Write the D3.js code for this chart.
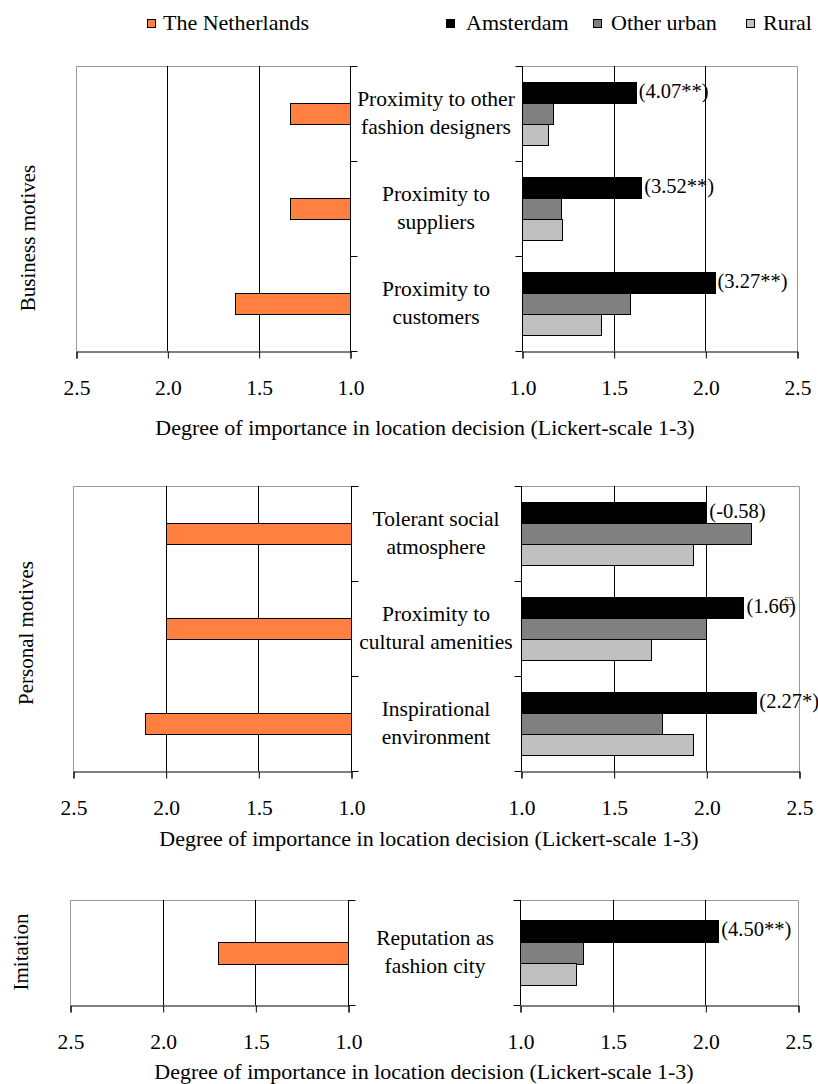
<!DOCTYPE html>
<html>
<head>
<meta charset="utf-8">
<script src="https://cdn.jsdelivr.net/npm/d3@7"></script>
<style>
  body { margin: 0; background: #fff; }
  svg { display: block; }
  svg text { font-family: "Liberation Serif", "DejaVu Serif", serif !important; fill: #000; }
</style>
</head>
<body>
<script>
// ---------------- DATA ----------------
const seriesNames = ["The Netherlands", "Amsterdam", "Other urban", "Rural"];
const valueTicks = [1.0, 1.5, 2.0, 2.5];
const axisTitle = "Degree of importance in location decision (Lickert-scale 1-3)";

const businessLabel = "Business motives";
const businessCategories = [["Proximity to other", "fashion designers"], ["Proximity to", "suppliers"], ["Proximity to", "customers"]];
const businessNetherlands = [1.33, 1.33, 1.63];
const businessAmsterdam = [1.62, 1.65, 2.05];
const businessOtherUrban = [1.17, 1.21, 1.59];
const businessRural = [1.14, 1.22, 1.43];
const businessTStats = ["(4.07**)", "(3.52**)", "(3.27**)"];

const personalLabel = "Personal motives";
const personalCategories = [["Tolerant social", "atmosphere"], ["Proximity to", "cultural amenities"], ["Inspirational", "environment"]];
const personalNetherlands = [2.00, 2.00, 2.11];
const personalAmsterdam = [2.00, 2.20, 2.27];
const personalOtherUrban = [2.24, 2.00, 1.76];
const personalRural = [1.93, 1.70, 1.93];
const personalTStats = ["(-0.58)", "(1.66□)", "(2.27*)"];

const imitationLabel = "Imitation";
const imitationCategories = [["Reputation as", "fashion city"]];
const imitationNetherlands = [1.70];
const imitationAmsterdam = [2.07];
const imitationOtherUrban = [1.34];
const imitationRural = [1.30];
const imitationTStats = ["(4.50**)"];

// ---------------- STYLE / LAYOUT ----------------
const FONT = "'Liberation Serif', 'DejaVu Serif', serif";
const colors = { nl: "#FF8040", ams: "#000000", oth: "#808080", rur: "#C0C0C0" };
const W = 818, H = 1084;
const svg = d3.select("body").append("svg").attr("width", W).attr("height", H)
  .attr("font-family", FONT);

// Legend
const legendItems = [
  { name: seriesNames[0], color: colors.nl, sx: 147, tx: 163 },
  { name: seriesNames[1], color: colors.ams, sx: 446, tx: 466 },
  { name: seriesNames[2], color: colors.oth, sx: 593, tx: 611 },
  { name: seriesNames[3], color: colors.rur, sx: 746, tx: 763 }
];
const lg = svg.append("g");
lg.selectAll("rect").data(legendItems).join("rect")
  .attr("x", d => d.sx + 0.5).attr("y", 19.5).attr("width", 8).attr("height", 8)
  .attr("fill", d => d.color).attr("stroke", "#000").attr("stroke-width", 1);
lg.selectAll("text").data(legendItems).join("text")
  .attr("x", d => d.tx).attr("y", 30).attr("font-size", 22).text(d => d.name);

function drawPanel(cfg, label, cats, nl, ams, oth, rur, tstats) {
  const g = svg.append("g");
  const xL = d3.scaleLinear().domain([2.5, 1.0]).range([cfg.lx0, cfg.lx1]);
  const xR = d3.scaleLinear().domain([1.0, 2.5]).range([cfg.rx0, cfg.rx1]);
  const y = d3.scaleBand().domain(d3.range(cats.length)).range([cfg.top, cfg.bottom])
    .paddingInner(cfg.pad).paddingOuter(cfg.pad / 2);
  const ySub = d3.scaleBand().domain([0, 1, 2]).range([0, y.bandwidth()]);
  const px = v => Math.round(v) + 0.5;

  // plot borders (light grey)
  g.append("path").attr("fill", "none").attr("stroke", "#999").attr("stroke-width", 1)
    .attr("d", `M${px(xL(1.0))},${px(cfg.top)}H${px(xL(2.5))}V${px(cfg.bottom)}`);
  g.append("path").attr("fill", "none").attr("stroke", "#999").attr("stroke-width", 1)
    .attr("d", `M${px(xR(1.0))},${px(cfg.top)}H${px(xR(2.5))}V${px(cfg.bottom)}`);

  // gridlines
  const inner = [1.5, 2.0];
  g.selectAll(".gl").data(inner).join("line")
    .attr("x1", d => px(xL(d))).attr("x2", d => px(xL(d)))
    .attr("y1", cfg.top).attr("y2", cfg.bottom).attr("stroke", "#000");
  g.selectAll(".gr").data(inner).join("line")
    .attr("x1", d => px(xR(d))).attr("x2", d => px(xR(d)))
    .attr("y1", cfg.top).attr("y2", cfg.bottom).attr("stroke", "#000");

  // Netherlands bars (left, reversed)
  g.selectAll(".nl").data(nl).join("rect")
    .attr("x", d => px(xL(d))).attr("width", d => Math.round(xL(1.0)) - Math.round(xL(d)))
    .attr("y", (d, i) => px(y(i) + ySub(1))).attr("height", Math.round(ySub.bandwidth()))
    .attr("fill", colors.nl).attr("stroke", "#000");

  // right bars
  const series = [{ vals: ams, c: colors.ams, k: 0 }, { vals: oth, c: colors.oth, k: 1 }, { vals: rur, c: colors.rur, k: 2 }];
  series.forEach(s => {
    g.selectAll(".r" + s.k).data(s.vals).join("rect")
      .attr("x", px(xR(1.0))).attr("width", d => Math.round(xR(d)) - Math.round(xR(1.0)))
      .attr("y", (d, i) => px(y(i) + ySub(s.k))).attr("height", Math.round(ySub.bandwidth()))
      .attr("fill", s.c).attr("stroke", "#000");
  });

  // t-stat annotations
  const ann = g.selectAll(".ann").data(tstats).join("text")
    .attr("x", (d, i) => xR(ams[i]) + 3)
    .attr("y", (d, i) => y(i) + ySub(0) + ySub.bandwidth() / 2 + 5)
    .attr("font-size", 20.5);
  ann.each(function (d) {
    const t = d3.select(this);
    const parts = d.split("□");
    if (parts.length === 1) { t.text(d); return; }
    t.append("tspan").text(parts[0]);
    t.append("tspan").attr("font-size", 13).attr("dx", -4).attr("dy", -8).text("□");
    t.append("tspan").attr("dx", -4).attr("dy", 8).text(parts[1]);
  });

  // category axes with outward ticks
  const bounds = d3.range(cats.length + 1).map(i => cfg.top + i * y.step());
  g.append("line").attr("x1", px(xL(1.0))).attr("x2", px(xL(1.0)))
    .attr("y1", cfg.top).attr("y2", cfg.bottom).attr("stroke", "#000");
  g.append("line").attr("x1", px(xR(1.0))).attr("x2", px(xR(1.0)))
    .attr("y1", cfg.top).attr("y2", cfg.bottom).attr("stroke", "#000");
  g.selectAll(".ctl").data(bounds).join("line")
    .attr("x1", px(xL(1.0))).attr("x2", px(xL(1.0)) + 7)
    .attr("y1", d => px(d)).attr("y2", d => px(d)).attr("stroke", "#000");
  g.selectAll(".ctr").data(bounds).join("line")
    .attr("x1", px(xR(1.0)) - 7).attr("x2", px(xR(1.0)))
    .attr("y1", d => px(d)).attr("y2", d => px(d)).attr("stroke", "#000");

  // value axes
  [xL, xR].forEach(sc => {
    const ax = g.append("g").attr("transform", `translate(0.5,${px(cfg.bottom)})`)
      .call(d3.axisBottom(sc).tickValues(valueTicks).tickFormat(d3.format(".1f"))
        .tickSizeOuter(0).tickSize(7).tickPadding(21));
    ax.attr("font-family", FONT).attr("font-size", 21.5);
    ax.select(".domain").attr("stroke", "#000");
    ax.selectAll(".tick line").attr("stroke", "#000");
    ax.selectAll(".tick text").attr("fill", "#000");
  });

  // axis title
  g.append("text").attr("x", cfg.titleX).attr("y", cfg.titleY).attr("text-anchor", "middle")
    .attr("font-size", 22).text(axisTitle);

  // category labels (two lines)
  const cl = g.selectAll(".cl").data(cats).join("text")
    .attr("text-anchor", "middle").attr("font-size", 21.5);
  cl.each(function (lines, i) {
    const c = y(i) + y.bandwidth() / 2;
    const t = d3.select(this);
    t.append("tspan").attr("x", cfg.labelX).attr("y", c - 8).text(lines[0]);
    t.append("tspan").attr("x", cfg.labelX).attr("y", c + 20).text(lines[1]);
  });

  // group label (rotated)
  g.append("text").attr("transform", `translate(${cfg.groupX},${cfg.groupY}) rotate(-90)`)
    .attr("text-anchor", "middle").attr("font-size", 21).text(label);
}

drawPanel({ top: 66, bottom: 351, lx0: 76, lx1: 350, rx0: 522, rx1: 797, pad: 0.34,
  titleX: 425, titleY: 435, labelX: 436, groupX: 35, groupY: 238 },
  businessLabel, businessCategories, businessNetherlands, businessAmsterdam, businessOtherUrban, businessRural, businessTStats);

drawPanel({ top: 486, bottom: 771, lx0: 73, lx1: 351, rx0: 521, rx1: 799, pad: 0.34,
  titleX: 429, titleY: 846, labelX: 436, groupX: 33, groupY: 633 },
  personalLabel, personalCategories, personalNetherlands, personalAmsterdam, personalOtherUrban, personalRural, personalTStats);

drawPanel({ top: 900, bottom: 1005, lx0: 70, lx1: 348, rx0: 520, rx1: 798, pad: 0.38,
  titleX: 424, titleY: 1079, labelX: 435, groupX: 28, groupY: 952 },
  imitationLabel, imitationCategories, imitationNetherlands, imitationAmsterdam, imitationOtherUrban, imitationRural, imitationTStats);
</script>
</body>
</html>
